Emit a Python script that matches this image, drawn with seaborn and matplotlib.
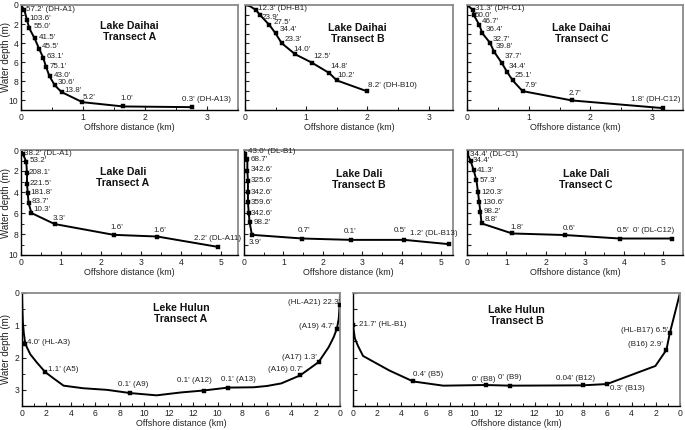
import numpy as np
import pandas as pd
import matplotlib
matplotlib.use("Agg")
import matplotlib.pyplot as plt
import seaborn as sns
from matplotlib.ticker import MultipleLocator, FixedLocator, FixedFormatter

# ---------------- data ----------------
# Lake Daihai, transect A
dhA_line_dist = [0, 0.054, 0.097, 0.135, 0.22, 0.29, 0.357, 0.405, 0.46, 0.546, 0.654, 0.99, 1.65, 2.75]
dhA_line_depth = [0, 0.53, 1.58, 2.46, 3.5, 4.56, 5.5, 6.5, 7.47, 8.42, 9.12, 10.18, 10.63, 10.7]
dhA_dist = [0.054, 0.097, 0.135, 0.22, 0.29, 0.357, 0.405, 0.46, 0.546, 0.654, 0.99, 1.65, 2.75]
dhA_depth = [0.53, 1.58, 2.46, 3.5, 4.56, 5.5, 6.5, 7.47, 8.42, 9.12, 10.18, 10.63, 10.7]
dhA_labels = ["57.2' (DH-A1)", "103.6'", "55.0'", "41.5'", "45.5'", "63.1'", "75.1'",
              "43.0'", "30.6'", "13.8'", "5.2'", "1.0'", "0.3' (DH-A13)"]

# Lake Daihai, transect B
dhB_line_dist = [0, 0.08, 0.18, 0.245, 0.4, 0.5, 0.6, 0.82, 1.09, 1.375, 1.5, 2.0]
dhB_line_depth = [0, 0.12, 0.53, 1.05, 2.1, 2.98, 4.0, 5.16, 6.03, 7.12, 7.9, 9.05]
dhB_dist = [0.18, 0.245, 0.4, 0.5, 0.6, 0.82, 1.09, 1.375, 1.5, 2.0]
dhB_depth = [0.53, 1.05, 2.1, 2.98, 4.0, 5.16, 6.03, 7.12, 7.9, 9.05]
dhB_labels = ["12.3' (DH-B1)", "23.9'", "27.5'", "34.4'", "23.3'", "14.0'", "12.5'",
              "14.8'", "10.2'", "8.2' (DH-B10)"]

# Lake Daihai, transect C
dhC_line_dist = [0, 0.1, 0.11, 0.2, 0.25, 0.37, 0.44, 0.56, 0.65, 0.74, 0.9, 1.7, 3.17]
dhC_line_depth = [0, 0.53, 1.05, 2.1, 2.98, 3.93, 4.91, 6.03, 7.02, 7.9, 9.02, 10.0, 10.8]
dhC_dist = [0.1, 0.11, 0.2, 0.25, 0.37, 0.44, 0.56, 0.65, 0.74, 0.9, 1.7, 3.17]
dhC_depth = [0.53, 1.05, 2.1, 2.98, 3.93, 4.91, 6.03, 7.02, 7.9, 9.02, 10.0, 10.8]
dhC_labels = ["31.3' (DH-C1)", "50.0'", "46.7'", "36.4'", "32.7'", "39.8'", "37.7'",
              "34.4'", "25.1'", "7.9'", "2.7'", "1.8' (DH-C12)"]

# Lake Dali, transect A
dlA_line_dist = [0, 0.05, 0.13, 0.15, 0.15, 0.167, 0.19, 0.26, 0.84, 2.32, 3.41, 4.93]
dlA_line_depth = [0, 0.38, 1.12, 2.15, 3.2, 4.07, 5.03, 6.0, 7.05, 8.08, 8.24, 9.23]
dlA_dist = [0.05, 0.13, 0.15, 0.15, 0.167, 0.19, 0.26, 0.84, 2.32, 3.41, 4.93]
dlA_depth = [0.38, 1.12, 2.15, 3.2, 4.07, 5.03, 6.0, 7.05, 8.08, 8.24, 9.23]
dlA_labels = ["38.2' (DL-A1)", "53.2'", "208.1'", "221.5'", "181.8'", "83.7'", "10.3'",
              "3.3'", "1.6'", "1.6'", "2.2' (DL-A11)"]

# Lake Dali, transect B
dlB_line_dist = [0, 0.02, 0.085, 0.085, 0.1, 0.1, 0.1, 0.12, 0.144, 0.2, 1.48, 2.71, 4.07, 5.2]
dlB_line_depth = [0, 0.38, 0.9, 1.99, 2.95, 4.0, 4.97, 6.0, 6.9, 8.08, 8.43, 8.56, 8.56, 8.97]
dlB_dist = [0.02, 0.085, 0.085, 0.1, 0.1, 0.1, 0.12, 0.144, 0.2, 1.48, 2.71, 4.07, 5.2]
dlB_depth = [0.38, 0.9, 1.99, 2.95, 4.0, 4.97, 6.0, 6.9, 8.08, 8.43, 8.56, 8.56, 8.97]
dlB_labels = ["43.0' (DL-B1)", "68.7'", "342.6'", "325.6'", "342.6'", "359.6'", "342.6'",
              "98.2'", "3.9'", "0.7'", "0.1'", "0.5'", "1.2' (DL-B13)"]

# Lake Dali, transect C
dlC_line_dist = [0, 0.01, 0.09, 0.17, 0.24, 0.28, 0.31, 0.34, 0.37, 1.15, 2.5, 3.89, 5.23]
dlC_line_depth = [0, 0.32, 1.03, 1.92, 2.88, 4.0, 4.97, 5.87, 6.99, 7.95, 8.1, 8.43, 8.43]
dlC_dist = [0.01, 0.09, 0.17, 0.24, 0.28, 0.31, 0.34, 0.37, 1.15, 2.5, 3.89, 5.23]
dlC_depth = [0.32, 1.03, 1.92, 2.88, 4.0, 4.97, 5.87, 6.99, 7.95, 8.1, 8.43, 8.43]
dlC_labels = ["34.4' (DL-C1)", "34.4'", "41.3'", "57.3'", "120.3'", "130.6'", "98.2'",
              "8.8'", "1.8'", "0.6'", "0.5'", "0' (DL-C12)"]

# Lake Hulun, transect A (shore-to-shore cross section)
hlA_line_dist = [0, 0.03, 0.07, 0.15, 0.27, 0.68, 1.23, 1.9, 2.6, 3.4, 5.0, 6.95, 8.86, 11.0,
                 13.0, 14.85, 16.84, 18.94, 20.03, 21.2, 22.75, 24.25, 25.07, 25.48, 25.75,
                 25.9, 25.97, 26.0]
hlA_line_depth = [0, 0.5, 0.9, 1.25, 1.58, 1.9, 2.16, 2.45, 2.65, 2.87, 2.95, 3.0, 3.1, 3.17,
                  3.08, 3.02, 2.93, 2.92, 2.88, 2.8, 2.55, 2.14, 1.68, 1.37, 1.1,
                  0.79, 0.37, 0]
hlA_dist = [0.27, 1.9, 8.86, 14.85, 16.84, 22.75, 24.25, 25.75, 25.97]
hlA_depth = [1.58, 2.45, 3.1, 3.02, 2.93, 2.55, 2.14, 1.1, 0.37]
hlA_labels = ["4.0' (HL-A3)", "1.1' (A5)", "0.1' (A9)", "0.1' (A12)", "0.1' (A13)",
              "(A16) 0.7'", "(A17) 1.3'", "(A19) 4.7'", "(HL-A21) 22.3'"]
hlA_ticks = [0, 2, 4, 6, 8, 10, 12, 14, 16, 18, 20, 22, 24, 26]
hlA_ticklabels = ["0", "2", "4", "6", "8", "10", "12", "12", "10", "8", "6", "4", "2", "0"]

# Lake Hulun, transect B
hlB_line_dist = [0, 0.0, 0.15, 0.4, 0.83, 3.0, 4.97, 7.45, 10.95, 12.97, 18.95, 20.97,
                 24.97, 25.88, 26.16, 26.5, 27.0]
hlB_line_depth = [0, 1.0, 1.4, 1.63, 1.95, 2.4, 2.74, 2.87, 2.85, 2.87, 2.86, 2.82,
                  2.26, 1.76, 1.24, 0.74, 0]
hlB_dist = [0.0, 4.97, 10.95, 12.97, 18.95, 20.97, 25.88, 26.16]
hlB_depth = [1.0, 2.74, 2.85, 2.87, 2.86, 2.82, 1.76, 1.24]
hlB_labels = ["21.7' (HL-B1)", "0.4' (B5)", "0' (B8)", "0' (B9)", "0.04' (B12)",
              "0.3' (B13)", "(B16) 2.9'", "(HL-B17) 6.5'"]
hlB_ticks = [0, 2, 4, 6, 8, 10, 12, 15, 17, 19, 21, 23, 25, 27]
hlB_ticklabels = ["0", "2", "4", "6", "8", "10", "12", "12", "10", "8", "6", "4", "2", "0"]

# ---------------- label placement (pixel offsets, alignment) ----------------
dhA_place = [(2, 1, 'left'), (2, 2, 'left'), (4, 2, 'left'), (4, 1, 'left'), (3, 2, 'left'),
             (3, 1, 'left'), (4, 1, 'left'), (4, 1, 'left'), (3, 3, 'left'), (3, 2, 'left'),
             (7, 5, 'center'), (3, 8, 'center'), (15, 8, 'center')]
dhB_place = [(2, 2, 'left'), (2, -2, 'left'), (4, 3, 'left'), (4, 4, 'left'), (3, 4, 'left'),
             (-2, 5, 'left'), (2, 6, 'left'), (1, 6, 'left'), (1, 5, 'left'), (1, 6, 'left')]
dhC_place = [(2, 2, 'left'), (1, 0, 'left'), (2, 4, 'left'), (3, 4, 'left'), (3, 3, 'left'),
             (2, 5, 'left'), (3, 6, 'left'), (2, 6, 'left'), (2, 5, 'left'), (2, 6, 'left'),
             (3, 7, 'center'), (-7, 9, 'center')]
dlA_place = [(1, 0, 'left'), (3, 1, 'left'), (2, 0, 'left'), (3, 0, 'left'), (3, 0, 'left'),
             (3, 1, 'left'), (2, 4, 'left'), (5, 6, 'center'), (3, 7, 'center'),
             (3, 6, 'center'), (0, 8, 'center')]
dlB_place = [(3, 2, 'left'), (3, 0, 'left'), (3, 1, 'left'), (3, 0, 'left'), (3, 0, 'left'),
             (3, 0, 'left'), (2, 0, 'left'), (4, 0, 'left'), (3, -8, 'center'),
             (2, 8, 'center'), (-1, 8, 'center'), (-4, 9, 'center'), (-15, 11, 'center')]
dlC_place = [(3, -1, 'left'), (2, 0, 'left'), (3, 0, 'left'), (3, 0, 'left'), (3, 0, 'left'),
             (3, 0, 'left'), (3, 0, 'left'), (3, 4, 'left'), (5, 6, 'center'),
             (4, 7, 'center'), (3, 8, 'center'), (-19, 8, 'center')]
hlA_place = [(2, 2, 'left'), (3, 3, 'left'), (3, 9, 'center'), (-9, 10, 'center'),
             (10, 8, 'center'), (2, 6, 'right'), (-2, 5, 'right'), (-3, 2, 'right'),
             (1, 2, 'right')]
hlB_place = [(6, 1, 'left'), (0, 7, 'left'), (-2, 6, 'center'), (0, 8, 'center'),
             (-7, 7, 'center'), (3, -4, 'left'), (-4, 5, 'right'), (-1, 3, 'right')]

# ---------------- style ----------------
sns.set_theme(style="ticks")
plt.rcParams['font.family'] = ['Liberation Sans', 'DejaVu Sans']
W, H = 685, 430
fig = plt.figure(figsize=(W / 100, H / 100), dpi=100)


def add_ax(l, t, r, b):
    return fig.add_axes([l / W, 1 - b / H, (r - l) / W, (b - t) / H])


panels = [
    dict(box=(21, 5, 238, 110), xlim=3.5, ylim=11, title="Lake Daihai\nTransect A", tpos=(0.50, 0.75),
         line=(dhA_line_dist, dhA_line_depth), pts=(dhA_dist, dhA_depth), labels=dhA_labels,
         place=dhA_place, ylab=True, kind="top"),
    dict(box=(245, 5, 453, 110), xlim=3.4, ylim=11, title="Lake Daihai\nTransect B", tpos=(0.54, 0.73),
         line=(dhB_line_dist, dhB_line_depth), pts=(dhB_dist, dhB_depth), labels=dhB_labels,
         place=dhB_place, ylab=False, kind="top"),
    dict(box=(467, 5, 683, 110), xlim=3.5, ylim=11, title="Lake Daihai\nTransect C", tpos=(0.53, 0.73),
         line=(dhC_line_dist, dhC_line_depth), pts=(dhC_dist, dhC_depth), labels=dhC_labels,
         place=dhC_place, ylab=False, kind="top"),
    dict(box=(21, 150, 238, 255), xlim=5.43, ylim=10, title="Lake Dali\nTransect A", tpos=(0.47, 0.74),
         line=(dlA_line_dist, dlA_line_depth), pts=(dlA_dist, dlA_depth), labels=dlA_labels,
         place=dlA_place, ylab=True, kind="mid"),
    dict(box=(244, 150, 453, 255), xlim=5.3, ylim=10, title="Lake Dali\nTransect B", tpos=(0.55, 0.72),
         line=(dlB_line_dist, dlB_line_depth), pts=(dlB_dist, dlB_depth), labels=dlB_labels,
         place=dlB_place, ylab=False, kind="mid"),
    dict(box=(467, 150, 683, 255), xlim=5.5, ylim=10, title="Lake Dali\nTransect C", tpos=(0.55, 0.72),
         line=(dlC_line_dist, dlC_line_depth), pts=(dlC_dist, dlC_depth), labels=dlC_labels,
         place=dlC_place, ylab=False, kind="mid"),
    dict(box=(22, 293, 340, 406), xlim=26, ylim=3.5, title="Leke Hulun\nTransect A", tpos=(0.50, 0.82),
         line=(hlA_line_dist, hlA_line_depth), pts=(hlA_dist, hlA_depth), labels=hlA_labels,
         place=hlA_place, ylab=True, kind="bot", ticks=(hlA_ticks, hlA_ticklabels)),
    dict(box=(353, 293, 680, 406), xlim=27, ylim=3.5, title="Lake Hulun\nTransect B", tpos=(0.50, 0.80),
         line=(hlB_line_dist, hlB_line_depth), pts=(hlB_dist, hlB_depth), labels=hlB_labels,
         place=hlB_place, ylab=False, kind="bot", ticks=(hlB_ticks, hlB_ticklabels)),
]

for p in panels:
    ax = add_ax(*p["box"])
    l, t, r, b = p["box"]
    ld = pd.DataFrame({"dist": p["line"][0], "depth": p["line"][1]})
    sd = pd.DataFrame({"dist": p["pts"][0], "depth": p["pts"][1]})
    sns.lineplot(data=ld, x="dist", y="depth", ax=ax, sort=False, estimator=None,
                 color="black", linewidth=1.4)
    sns.scatterplot(data=sd, x="dist", y="depth", ax=ax, color="black", s=8,
                    marker="s", edgecolor="black", linewidth=0.3, zorder=3)
    for (x, d), txt, (dx, dy, ha) in zip(zip(sd["dist"], sd["depth"]), p["labels"], p["place"]):
        ax.annotate(txt, (x, d), xytext=(dx, dy), textcoords="offset pixels",
                    ha=ha, va="center", fontsize=5.8, color="#222222")
    ax.set_xlim(0, p["xlim"])
    ax.set_ylim(p["ylim"], 0)
    ax.set_xlabel("Offshore distance (km)", fontsize=6.4, labelpad=1, color="#222222")
    if p["ylab"]:
        ax.set_ylabel("Water depth (m)", fontsize=7.0, color="#222222")
        ax.yaxis.set_label_coords((11 - l) / (r - l), 0.5)
    else:
        ax.set_ylabel("")
    ax.text(p["tpos"][0], p["tpos"][1], p["title"], transform=ax.transAxes, ha="center",
            va="center", fontsize=7.6, fontweight="bold", linespacing=1.15, color="#111111")

    if p["kind"] in ("top", "mid"):
        ax.xaxis.set_major_locator(MultipleLocator(1))
        ax.xaxis.set_minor_locator(MultipleLocator(0.5))
        ax.yaxis.set_major_locator(MultipleLocator(2))
        ax.yaxis.set_minor_locator(MultipleLocator(1))
    else:
        ax.xaxis.set_major_locator(FixedLocator(p["ticks"][0]))
        ax.xaxis.set_major_formatter(FixedFormatter(p["ticks"][1]))
        ax.xaxis.set_minor_locator(MultipleLocator(1))
        ax.yaxis.set_major_locator(MultipleLocator(1))
        ax.yaxis.set_minor_locator(MultipleLocator(0.5))
    ax.tick_params(which="major", direction="in", length=3, width=0.8, labelsize=6.2,
                   pad=2, colors="#222222")
    ax.tick_params(which="minor", direction="in", length=2, width=0.7)
    if not p["ylab"]:
        step = 1 if p["kind"] != "bot" else 0.5
        ax.yaxis.set_major_locator(MultipleLocator(step))
        ax.yaxis.set_minor_locator(MultipleLocator(step))
        ax.set_yticklabels([])
    for s in ("left", "bottom"):
        ax.spines[s].set_color("black")
        ax.spines[s].set_linewidth(1.0)
    for s in ("top", "right"):
        ax.spines[s].set_visible(True)
        ax.spines[s].set_color("#8a8a8a")
        ax.spines[s].set_linewidth(1.3)
    ax.set_facecolor("white")

fig.savefig("out.png", dpi=100, facecolor="white")
